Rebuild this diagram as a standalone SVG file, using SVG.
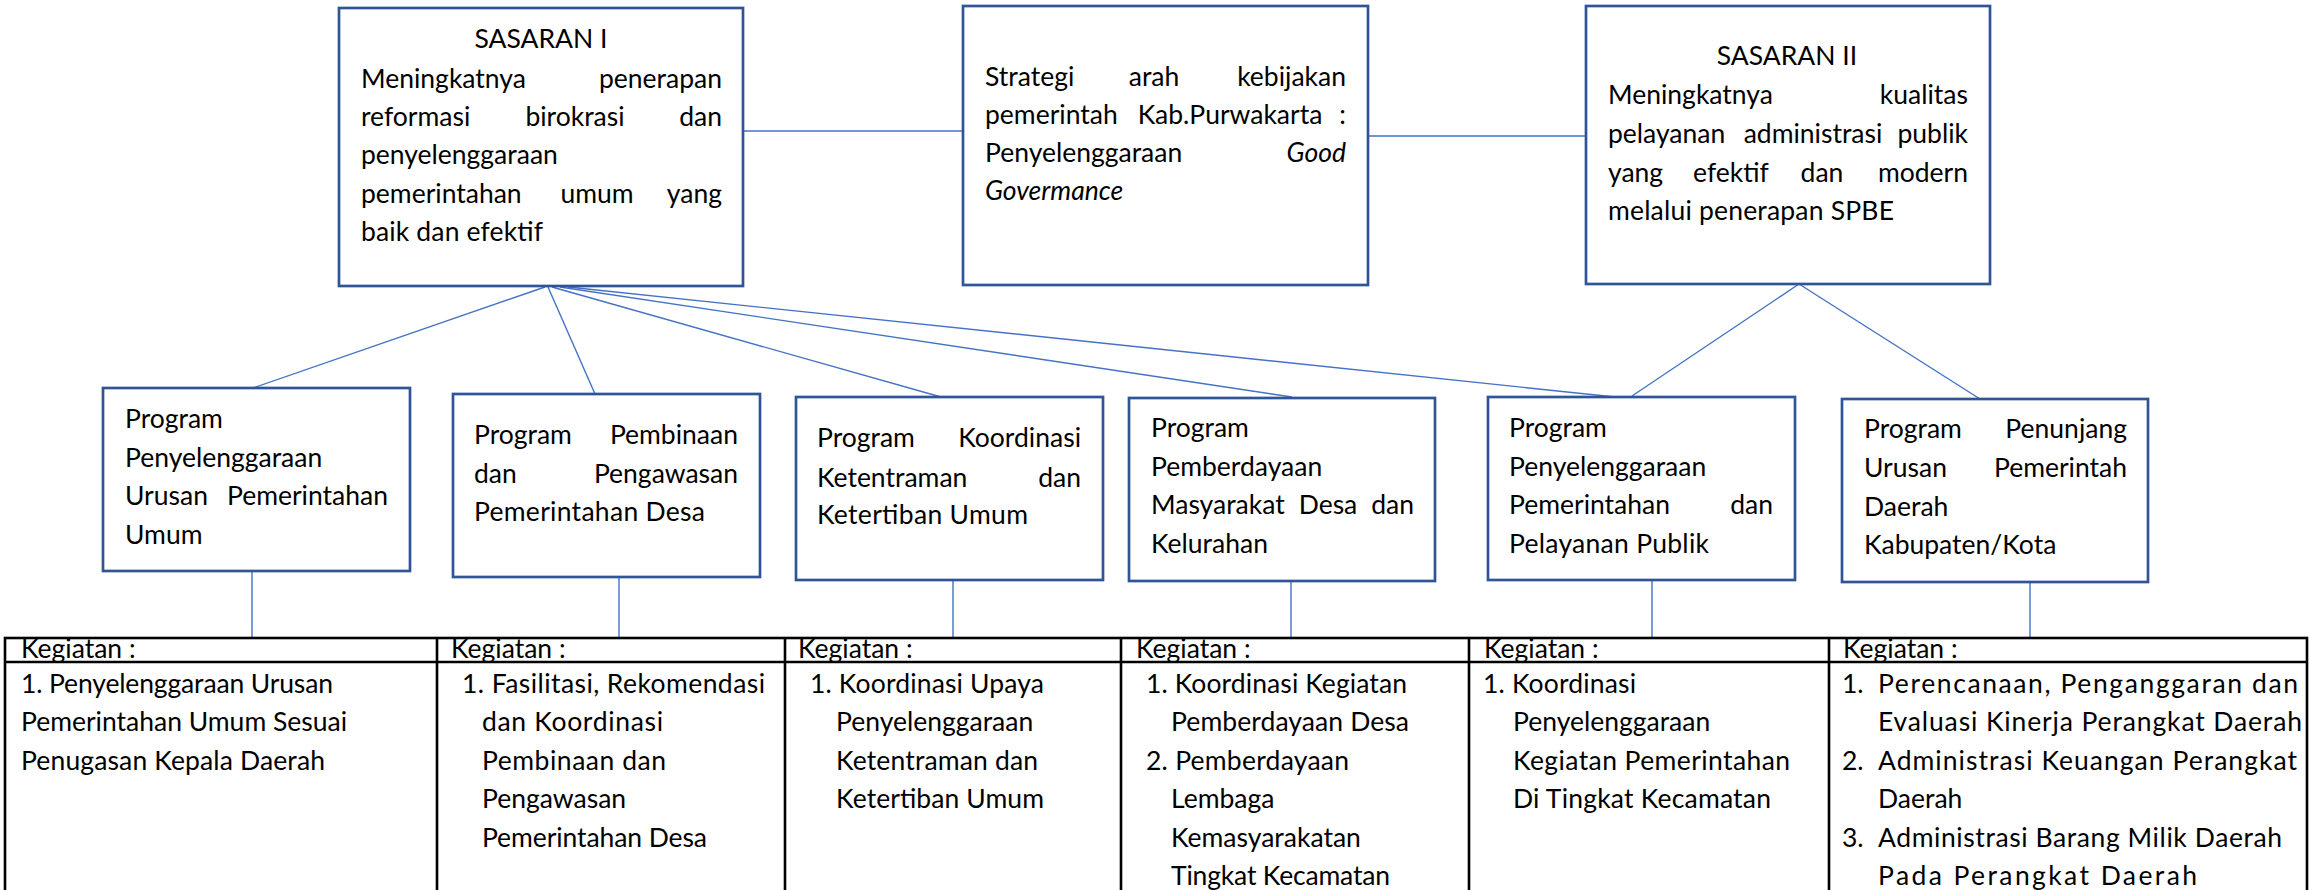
<svg xmlns="http://www.w3.org/2000/svg" width="2309" height="890" viewBox="0 0 2309 890">
<style>
.box{fill:#fff;stroke:#2F5597;stroke-width:2.7}
text{font-family:Lato,"Liberation Sans",sans-serif;font-size:26.5px;fill:#000}
.e{text-anchor:end}
.m{text-anchor:middle}
.i{font-style:italic}
#connectors line{stroke:#4472C4;stroke-width:1.4}
.tbl{fill:none;stroke:#000;stroke-width:2.6}
</style>
<rect width="2309" height="890" fill="#fff"/>
<g id="connectors">
<line x1="743" y1="131" x2="963" y2="131"/>
<line x1="1368" y1="136" x2="1586" y2="136"/>
<line x1="545" y1="287" x2="250" y2="389"/>
<line x1="548" y1="287" x2="595" y2="394"/>
<line x1="552" y1="287" x2="941" y2="397"/>
<line x1="560" y1="287" x2="1292" y2="397"/>
<line x1="568" y1="287" x2="1615" y2="397"/>
<line x1="1799" y1="284" x2="1632" y2="396"/>
<line x1="1799" y1="284" x2="1980" y2="399"/>
<line x1="252" y1="571" x2="252" y2="638"/>
<line x1="619" y1="577" x2="619" y2="638"/>
<line x1="953" y1="580" x2="953" y2="638"/>
<line x1="1291" y1="581" x2="1291" y2="638"/>
<line x1="1652" y1="580" x2="1652" y2="638"/>
<line x1="2030" y1="582" x2="2030" y2="638"/>
</g>
<g id="sasaran1">
<rect class="box" x="339" y="8" width="404" height="278"/>
<text class="m" x="541" y="48">SASARAN I</text>
<text x="361" y="88">Meningkatnya</text><text class="e" x="722" y="88">penerapan</text>
<text x="361" y="126">reformasi</text><text class="m" x="575" y="126">birokrasi</text><text class="e" x="722" y="126">dan</text>
<text x="361" y="164">penyelenggaraan</text>
<text x="361" y="203">pemerintahan</text><text class="m" x="597" y="203">umum</text><text class="e" x="722" y="203">yang</text>
<text x="361" y="241" textLength="182">baik dan efektif</text>
</g>
<g id="strategi">
<rect class="box" x="963" y="6" width="405" height="279"/>
<text x="985" y="86">Strategi</text><text class="m" x="1154" y="86">arah</text><text class="e" x="1346" y="86">kebijakan</text>
<text x="985" y="124">pemerintah</text><text class="m" x="1230" y="124">Kab.Purwakarta</text><text class="e" x="1346" y="124">:</text>
<text x="985" y="162">Penyelenggaraan</text><text class="e i" x="1346" y="162">Good</text>
<text class="i" x="985" y="200">Govermance</text>
</g>
<g id="sasaran2">
<rect class="box" x="1586" y="6" width="404" height="278"/>
<text class="m" x="1787" y="65">SASARAN II</text>
<text x="1608" y="104">Meningkatnya</text><text class="e" x="1968" y="104">kualitas</text>
<text x="1608" y="143">pelayanan</text><text class="m" x="1813" y="143">administrasi</text><text class="e" x="1968" y="143">publik</text>
<text x="1608" y="182">yang</text><text class="m" x="1731" y="182">efektif</text><text class="m" x="1822" y="182">dan</text><text class="e" x="1968" y="182">modern</text>
<text x="1608" y="220" textLength="286">melalui penerapan SPBE</text>
</g>
<g id="program1">
<rect class="box" x="103" y="388" width="307" height="183"/>
<text x="125" y="428">Program</text>
<text x="125" y="467">Penyelenggaraan</text>
<text x="125" y="505">Urusan</text><text class="e" x="388" y="505">Pemerintahan</text>
<text x="125" y="544">Umum</text>
</g>
<g id="program2">
<rect class="box" x="453" y="394" width="307" height="183"/>
<text x="474" y="444">Program</text><text class="e" x="738" y="444">Pembinaan</text>
<text x="474" y="483">dan</text><text class="e" x="738" y="483">Pengawasan</text>
<text x="474" y="521" textLength="231">Pemerintahan Desa</text>
</g>
<g id="program3">
<rect class="box" x="796" y="397" width="307" height="183"/>
<text x="817" y="447">Program</text><text class="e" x="1081" y="447">Koordinasi</text>
<text x="817" y="487">Ketentraman</text><text class="e" x="1081" y="487">dan</text>
<text x="817" y="524" textLength="211">Ketertiban Umum</text>
</g>
<g id="program4">
<rect class="box" x="1129" y="398" width="306" height="183"/>
<text x="1151" y="437">Program</text>
<text x="1151" y="476">Pemberdayaan</text>
<text x="1151" y="514">Masyarakat</text><text class="m" x="1328" y="514">Desa</text><text class="e" x="1414" y="514">dan</text>
<text x="1151" y="553">Kelurahan</text>
</g>
<g id="program5">
<rect class="box" x="1488" y="397" width="307" height="183"/>
<text x="1509" y="437">Program</text>
<text x="1509" y="476">Penyelenggaraan</text>
<text x="1509" y="514">Pemerintahan</text><text class="e" x="1773" y="514">dan</text>
<text x="1509" y="553" textLength="200">Pelayanan Publik</text>
</g>
<g id="program6">
<rect class="box" x="1842" y="399" width="306" height="183"/>
<text x="1864" y="438">Program</text><text class="e" x="2127" y="438">Penunjang</text>
<text x="1864" y="477">Urusan</text><text class="e" x="2127" y="477">Pemerintah</text>
<text x="1864" y="516">Daerah</text>
<text x="1864" y="554">Kabupaten/Kota</text>
</g>
<g id="kegiatan-table">
<rect class="tbl" x="5" y="638" width="2302" height="270"/>
<line class="tbl" x1="5" y1="662" x2="2307" y2="662"/>
<line class="tbl" x1="437" y1="638" x2="437" y2="900"/>
<line class="tbl" x1="785" y1="638" x2="785" y2="900"/>
<line class="tbl" x1="1121" y1="638" x2="1121" y2="900"/>
<line class="tbl" x1="1469" y1="638" x2="1469" y2="900"/>
<line class="tbl" x1="1829" y1="638" x2="1829" y2="900"/>
</g>
<g id="kegiatan1">
<text x="21" y="658">Kegiatan :</text>
<text x="21" y="693" textLength="312">1. Penyelenggaraan Urusan</text>
<text x="21" y="731" textLength="326">Pemerintahan Umum Sesuai</text>
<text x="21" y="770" textLength="304">Penugasan Kepala Daerah</text>
</g>
<g id="kegiatan2">
<text x="451" y="658">Kegiatan :</text>
<text x="462" y="693" textLength="303">1. Fasilitasi, Rekomendasi</text>
<text x="482" y="731" textLength="181">dan Koordinasi</text>
<text x="482" y="770" textLength="184">Pembinaan dan</text>
<text x="482" y="808">Pengawasan</text>
<text x="482" y="847" textLength="225">Pemerintahan Desa</text>
</g>
<g id="kegiatan3">
<text x="798" y="658">Kegiatan :</text>
<text x="810" y="693" textLength="234">1. Koordinasi Upaya</text>
<text x="836" y="731">Penyelenggaraan</text>
<text x="836" y="770" textLength="202">Ketentraman dan</text>
<text x="836" y="808" textLength="208">Ketertiban Umum</text>
</g>
<g id="kegiatan4">
<text x="1136" y="658">Kegiatan :</text>
<text x="1146" y="693" textLength="261">1. Koordinasi Kegiatan</text>
<text x="1171" y="731" textLength="238">Pemberdayaan Desa</text>
<text x="1146" y="770" textLength="203">2. Pemberdayaan</text>
<text x="1171" y="808">Lembaga</text>
<text x="1171" y="847">Kemasyarakatan</text>
<text x="1171" y="885" textLength="219">Tingkat Kecamatan</text>
</g>
<g id="kegiatan5">
<text x="1484" y="658">Kegiatan :</text>
<text x="1483" y="693" textLength="153">1. Koordinasi</text>
<text x="1513" y="731">Penyelenggaraan</text>
<text x="1513" y="770" textLength="277">Kegiatan Pemerintahan</text>
<text x="1513" y="808" textLength="258">Di Tingkat Kecamatan</text>
</g>
<g id="kegiatan6">
<text x="1843" y="658">Kegiatan :</text>
<text x="1842" y="693">1.</text><text x="1878" y="693" textLength="420">Perencanaan, Penganggaran dan</text>
<text x="1878" y="731" textLength="424">Evaluasi Kinerja Perangkat Daerah</text>
<text x="1842" y="770">2.</text><text x="1878" y="770" textLength="419">Administrasi Keuangan Perangkat</text>
<text x="1878" y="808">Daerah</text>
<text x="1842" y="847">3.</text><text x="1878" y="847" textLength="404">Administrasi Barang Milik Daerah</text>
<text x="1878" y="885" textLength="319">Pada Perangkat Daerah</text>
</g>
</svg>
